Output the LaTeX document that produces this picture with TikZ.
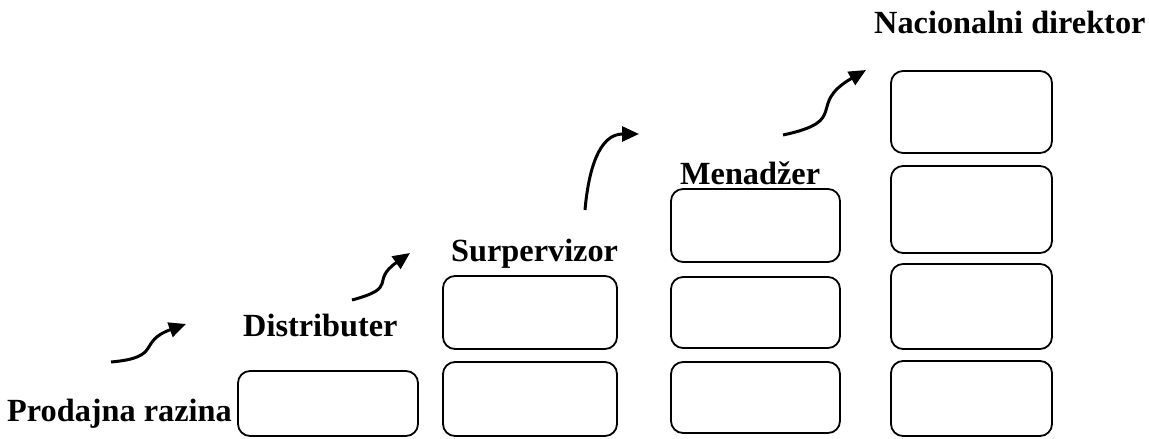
\documentclass[tikz,border=0pt]{standalone}
\usepackage{fontspec}
\setmainfont{Liberation Serif}
\usetikzlibrary{arrows.meta}
\begin{document}
\begin{tikzpicture}[x=1pt,y=-1pt,
  box/.style={draw=black, line width=1.8pt, rounded corners=12pt, inner sep=0pt},
  lbl/.style={anchor=base west, inner sep=0pt, font=\fontsize{32.3}{36}\selectfont\bfseries},
  arr/.style={line width=3pt, -{Triangle[length=17pt,width=15pt]}}]
\useasboundingbox (0,0) rectangle (1149,439);
% column 1
\node[box, minimum width=180pt, minimum height=65pt] (a1) at (328,403.5) {};
% column 2
\node[box, minimum width=174pt, minimum height=73pt] (b1) at (530,312.5) {};
\node[box, minimum width=174pt, minimum height=74pt] (b2) at (530,399) {};
% column 3
\node[box, minimum width=169pt, minimum height=73pt] (c1) at (755.5,225.5) {};
\node[box, minimum width=169pt, minimum height=71pt] (c2) at (755.5,312.5) {};
\node[box, minimum width=169pt, minimum height=71pt] (c3) at (755.5,397.5) {};
% column 4
\node[box, minimum width=161pt, minimum height=82pt] (d1) at (971.5,112) {};
\node[box, minimum width=161pt, minimum height=87pt] (d2) at (971.5,209.5) {};
\node[box, minimum width=161pt, minimum height=85pt] (d3) at (971.5,306.5) {};
\node[box, minimum width=161pt, minimum height=75pt] (d4) at (971.5,398.5) {};
% labels
\node[lbl] (t1) at (7,421) {Prodajna razina};
\node[lbl] (t2) at (243,336) {Distributer};
\node[lbl] (t3) at (451,261) {Surpervizor};
\node[lbl] (t4) at (680,184) {Menadžer};
\node[lbl] (t5) at (874,33) {Nacionalni direktor};
% arrows
\coordinate (s1) at (111,362); \coordinate (e1) at (186,324);
\coordinate (s2) at (352,300); \coordinate (e2) at (410,253);
\coordinate (s3) at (585,210); \coordinate (e3) at (639,134);
\coordinate (s4) at (783,135); \coordinate (e4) at (866,70);
\draw[arr] (s1) to[out=5,in=200,looseness=1.6] (e1);
\draw[arr] (s2) to[out=15,in=215,looseness=1.7] (e2);
\draw[arr] (s3) to[out=85,in=180,looseness=1.1] (e3);
\draw[arr] (s4) to[out=12,in=210,looseness=1.7] (e4);
\end{tikzpicture}
\end{document}
